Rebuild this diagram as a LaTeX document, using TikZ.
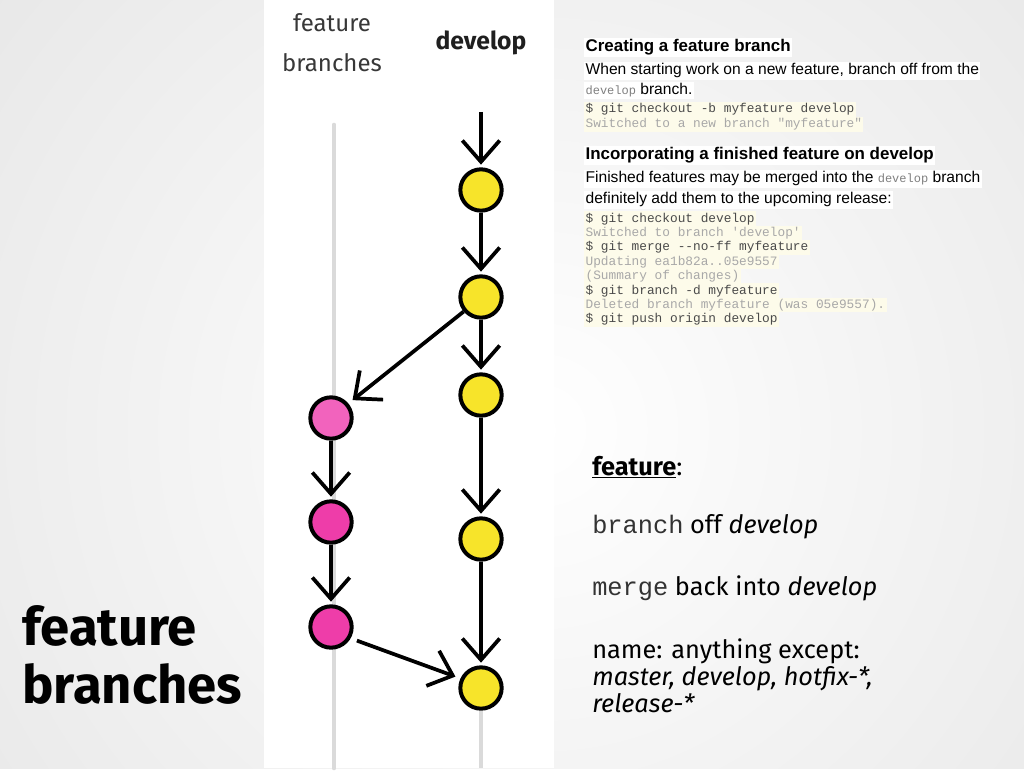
\documentclass[tikz,border=0pt]{standalone}
\usepackage{fontspec}
\setmainfont{Fira Sans}
\setmonofont{Liberation Mono}
\newfontfamily\arialfont{Liberation Sans}
\usepackage{xcolor}
\usepackage{tikz}
\usetikzlibrary{positioning,arrows.meta}
\definecolor{devyellow}{HTML}{F7E42A}
\definecolor{featpink}{HTML}{F263BD}
\definecolor{featmag}{HTML}{EE3DA9}
\definecolor{cream}{HTML}{FDFBEA}
\definecolor{codedark}{HTML}{4A4A4A}
\definecolor{codelight}{HTML}{A8A8A8}
\definecolor{trunk}{HTML}{DADADA}
\newcommand{\inl}[1]{{\fontsize{9}{10}\ttfamily\color{gray}#1}}

\begin{document}
\begin{tikzpicture}[
  x=0.75pt, y=-0.75pt,
  commit/.style={circle, draw=black, line width=3pt, minimum size=31pt, inner sep=0pt},
  dev/.style={commit, fill=devyellow},
  feat/.style={commit, fill=featmag},
  arr/.style={-{Straight Barb[length=16pt,width=28pt]}, line width=2.8pt, shorten >=2pt},
  lbl/.style={anchor=base, inner sep=0pt, text=black!78, font=\fontsize{18}{20}\selectfont},
  hd/.style={anchor=base west, inner sep=1pt, fill=white, font=\fontsize{12.7}{14}\arialfont\bfseries},
  para/.style={anchor=base west, inner sep=1pt, fill=white, font=\fontsize{11.7}{13.5}\arialfont},
  code/.style={anchor=base west, inner sep=1pt, fill=cream, font=\fontsize{9.6}{11}\ttfamily},
  body/.style={anchor=base west, inner sep=0pt, font=\fontsize{19}{22}\selectfont}
]
% slide background
\begin{scope}
  \clip (0,0) rectangle (1024,768);
  \shade[inner color=white, outer color=black!20] (540,430) circle (1560);
\end{scope}
\fill[white] (264,0) rectangle (554,768);

% title
\node[anchor=base west, inner sep=0pt, font=\fontsize{39.5}{46}\selectfont\bfseries] (t1) at (22,645) {feature};
\node[anchor=base west, inner sep=0pt, font=\fontsize{39.5}{46}\selectfont\bfseries] (t2) at (22,703) {branches};

% branch labels
\node[lbl] (lfeat) at (332,32) {feature};
\node[lbl] (lbr) at (332,72) {branches};
\node[lbl, font=\fontsize{18.5}{20}\selectfont\bfseries, text=black!88] (ldev) at (481,50) {develop};

% trunk lines
\coordinate (trunktop) at (334,125);
\coordinate (trunkend) at (334,768);
\coordinate (devtop) at (481,112);
\coordinate (devend) at (481,768);
\draw[trunk, line width=3.5pt, line cap=round] (trunktop) -- (trunkend);

% commits
\node[dev] (d1) at (481,190) {};
\node[dev] (d2) at (481,297) {};
\node[dev] (d3) at (481,395) {};
\node[dev] (d4) at (481,539) {};
\node[dev] (d5) at (481,688) {};
\node[feat, fill=featpink] (f1) at (331,418) {};
\node[feat] (f2) at (331,522) {};
\node[feat] (f3) at (331,627) {};
\draw[trunk, line width=3pt] (d5.south) -- (devend);

\draw[arr] (devtop) -- (d1); \draw[arr] (d1) -- (d2); \draw[arr] (d2) -- (d3);
\draw[arr] (d3) -- (d4); \draw[arr] (d4) -- (d5);
\draw[arr, shorten >=4pt] (d2.-140) -- (f1.40);
\draw[arr] (f1) -- (f2); \draw[arr] (f2) -- (f3);
\draw[arr, shorten <=5pt, shorten >=4pt] (f3.-30) -- (d5.155);

% git flow text
\node[hd] (h1) at (584,52) {Creating a feature branch};
\node[para] (p1) at (584,75) {When starting work on a new feature, branch off from the};
\node[para] (p2) at (584,95) {\inl{develop} branch.};
\node[code, text=codedark] (s1) at (584,113) {\$ git checkout -b myfeature develop};
\node[code, text=codelight] (s2) at (584,128) {Switched to a new branch "myfeature"};

\node[hd] (h2) at (584,160) {Incorporating a finished feature on develop};
\node[para] (p3) at (584,183) {Finished features may be merged into the \inl{develop} branch};
\node[para] (p4) at (584,204) {definitely add them to the upcoming release:};
\foreach \ln/\col [count=\i from 0] in {
  {\$ git checkout develop}/codedark,
  {Switched to branch 'develop'}/codelight,
  {\$ git merge --no-ff myfeature}/codedark,
  {Updating ea1b82a..05e9557}/codelight,
  {(Summary of changes)}/codelight,
  {\$ git branch -d myfeature}/codedark,
  {Deleted branch myfeature (was 05e9557).}/codelight,
  {\$ git push origin develop}/codedark}
  \node[code, text=\col] (c\i) at (584,{222+14.4*\i}) {\ln};

% summary
\node[body] (b0) at (592,475) {\textbf{\underline{feature}}:};
\node[body] (b1) at (592,533) {{\ttfamily\color{black!80}branch} off \textit{develop}};
\node[body] (b2) at (592,595) {{\ttfamily\color{black!80}merge} back into \textit{develop}};
\node[body] (b3) at (592,658) {name: anything except:};
\node[body] (b4) at (592,685) {\textit{master, develop, hotfix-*,}};
\node[body] (b5) at (592,712) {\textit{release-*}};
\end{tikzpicture}
\end{document}
